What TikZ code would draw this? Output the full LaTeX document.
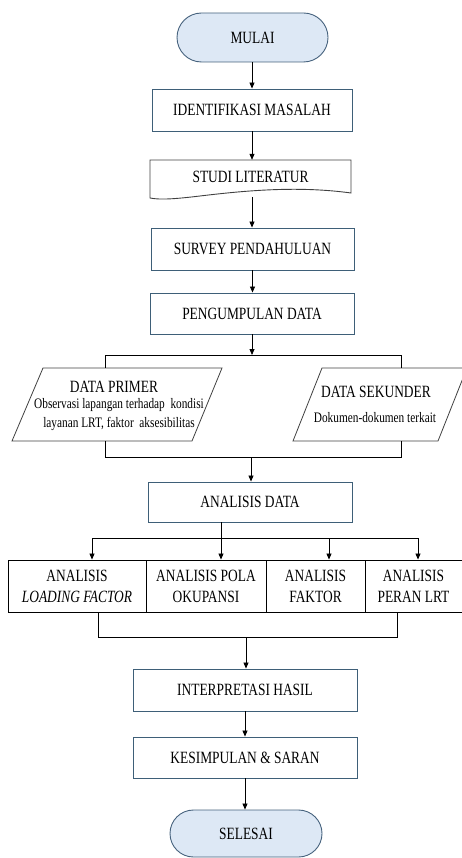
\documentclass[tikz,border=0pt]{standalone}
\usepackage{fontspec}
\setmainfont[FakeStretch=0.78]{Liberation Serif}
\usetikzlibrary{arrows.meta,shapes.misc}
\definecolor{bcol}{HTML}{3E5F78}
\definecolor{termfill}{HTML}{DDE8F5}
\definecolor{termdraw}{HTML}{46627D}
\definecolor{gcol}{HTML}{404040}
\begin{document}
\begin{tikzpicture}[x=1pt,y=-1pt,
  big/.style={font=\fontsize{17.2}{21}\selectfont},
  small/.style={font=\fontsize{14.5}{19}\selectfont},
  proc/.style={big, draw=bcol, line width=0.9pt, fill=white, inner sep=0pt, align=center},
  abox/.style={big, draw=black, line width=0.9pt, inner sep=0pt, align=center, minimum height=52pt},
  term/.style={big, rounded rectangle, draw=termdraw, fill=termfill, line width=0.9pt, inner sep=0pt},
  txt/.style={inner sep=0pt, align=center},
  ln/.style={line width=0.8pt, black},
  arr/.style={ln, -{Triangle[length=6pt,width=5pt]}}]
\useasboundingbox (0,0) rectangle (461,858);

% terminals and boxes
\node[term, minimum width=151pt, minimum height=49pt] (mulai) at (252.5,37.5) {MULAI};
\node[proc, minimum width=200pt, minimum height=42pt] (ident) at (252,110) {IDENTIFIKASI MASALAH};
\node[txt, big, minimum width=201pt, minimum height=34pt] (studi) at (250.5,177) {STUDI LITERATUR};
\draw[gcol, line width=0.9pt] (150,160) -- (351,160) -- (351,193)
   .. controls (300,186) and (250,190) .. (200,196)
   .. controls (175,199) and (160,200) .. (150,198) -- cycle;
\coordinate (studiB) at (252,197);
\node[proc, minimum width=203pt, minimum height=42pt] (survey) at (252.5,249) {SURVEY PENDAHULUAN};
\node[proc, minimum width=204pt, minimum height=41pt] (peng) at (252,313.5) {PENGUMPULAN DATA};

% data primer / sekunder
\draw[gcol, line width=0.8pt] (43,368) -- (222,368) -- (192,441) -- (12,441) -- cycle;
\draw[gcol, line width=0.8pt] (322,368) -- (467,368) -- (438,441) -- (293,441) -- cycle;
\node[txt, big] (primer) at (114,387) {DATA PRIMER};
\node[txt, small] (primerd) at (119,414.5) {Observasi lapangan terhadap\ \ kondisi\\layanan LRT, faktor\ \ aksesibilitas};
\node[txt, big] (sekunder) at (376,392) {DATA SEKUNDER};
\node[txt, small] (sekunderd) at (375,418) {Dokumen-dokumen terkait};

\node[proc, minimum width=204pt, minimum height=40pt] (adata) at (250,502) {ANALISIS DATA};

\node[abox, minimum width=138pt] (a1) at (77,586) {ANALISIS\\\textit{LOADING FACTOR}};
\node[abox, minimum width=120pt] (a2) at (206,586) {ANALISIS POLA\\OKUPANSI};
\node[abox, minimum width=99pt] (a3) at (315.5,586) {ANALISIS\\FAKTOR};
\node[abox, minimum width=97pt] (a4) at (413.5,586) {ANALISIS\\PERAN LRT};

\node[proc, minimum width=224pt, minimum height=42pt] (interp) at (245,690) {INTERPRETASI HASIL};
\node[proc, minimum width=224pt, minimum height=41pt] (kes) at (245,757.5) {KESIMPULAN \& SARAN};
\node[term, minimum width=152pt, minimum height=47pt] (selesai) at (246,833.5) {SELESAI};

% connectors
\draw[arr] (mulai.south -| ident.north) -- (ident.north);
\draw[arr] (ident.south) -- (ident.south |- studi.north);
\draw[arr] (studiB) -- (studiB |- survey.north);
\draw[arr] (survey.south) -- (survey.south |- peng.north);

\coordinate (s0) at (252,355);
\coordinate (s1) at (105,355);
\coordinate (s2) at (401,355);
\draw[arr] (peng.south) -- (s0);
\draw[ln] (s1) -- (s2);
\draw[ln] (s1) -- (105,368);
\draw[ln] (s2) -- (401,368);

\coordinate (m1) at (105,457);
\coordinate (m2) at (401,457);
\coordinate (m0) at (251,457);
\draw[ln] (105,441) -- (m1) -- (m2) -- (401,441);
\draw[arr] (m0) -- (m0 |- adata.north);

\coordinate (h0) at (221,538);
\coordinate (h1) at (92,538);
\coordinate (h3) at (329,538);
\coordinate (h4) at (418,538);
\draw[ln] (h0 |- adata.south) -- (h0);
\draw[ln] (h1) -- (h4);
\draw[arr] (h1) -- (h1 |- a1.north);
\draw[arr] (h0) -- (h0 |- a2.north);
\draw[arr] (h3) -- (h3 |- a3.north);
\draw[arr] (h4) -- (h4 |- a4.north);

\coordinate (k1) at (98,637);
\coordinate (k2) at (397,637);
\coordinate (k0) at (246,637);
\draw[ln] (k1 |- a1.south) -- (k1) -- (k2) -- (k2 |- a4.south);
\draw[arr] (k0) -- (k0 |- interp.north);
\draw[arr] (interp.south) -- (kes.north);
\draw[arr] (kes.south) -- (kes.south |- selesai.north);
\end{tikzpicture}
\end{document}
